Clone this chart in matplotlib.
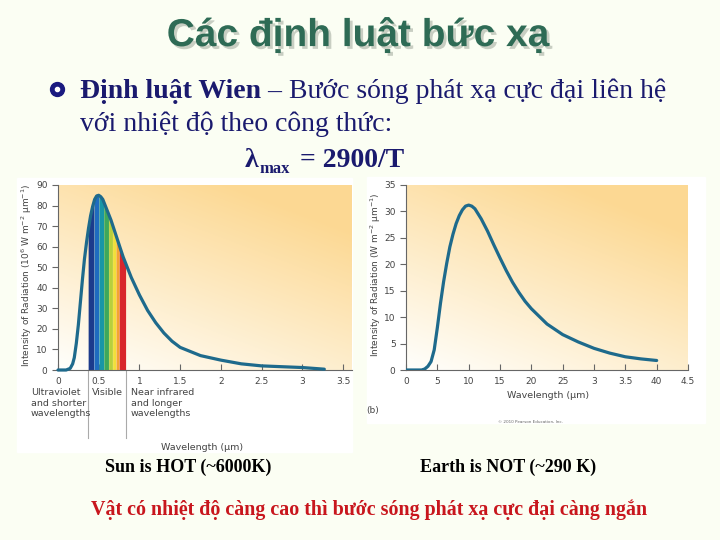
import matplotlib
matplotlib.use("Agg")
import matplotlib.pyplot as plt
import matplotlib.patheffects as pe
import numpy as np

# ---- data ----
sun_wl = [0, 0.1, 0.15, 0.18, 0.2, 0.225, 0.25, 0.275, 0.3, 0.325, 0.35,
          0.375, 0.4, 0.425, 0.45, 0.475, 0.5, 0.525, 0.55, 0.6,
          0.65, 0.7, 0.75, 0.8, 0.9, 1.0, 1.1, 1.2, 1.3, 1.4, 1.5, 1.75,
          2.0, 2.25, 2.5, 2.75, 3.0, 3.27]
sun_int = [0, 0, 0.8, 3, 6, 13, 22, 33, 44, 54, 62,
           69, 75, 79.5, 83, 84.7, 85, 84.3, 83, 78,
           73, 67, 61, 55, 45, 36.5, 29, 23, 18, 14, 11, 7,
           4.8, 3, 2, 1.6, 1.2, 0.4]

earth_wl = [0, 2.5, 3, 3.5, 4, 4.5, 5, 5.5, 6, 6.5, 7, 7.5, 8, 8.5, 9, 9.5,
            10, 10.5, 11, 12, 13, 14, 15, 16, 17, 18, 19, 20, 22.5, 25,
            27.5, 30, 32.5, 35, 37.5, 40]
earth_int = [0, 0, 0.2, 0.7, 1.6, 3.8, 8, 12.6, 16.7, 20.2, 23.3, 25.7,
             27.7, 29.2, 30.3, 31.0, 31.2, 31.0, 30.5, 28.6, 26.3, 23.7,
             21.2, 18.8, 16.6, 14.7, 13.0, 11.6, 8.7, 6.7, 5.3, 4.1, 3.2,
             2.5, 2.1, 1.8]

sun_xticks = [0, 0.5, 1, 1.5, 2, 2.5, 3, 3.5]
sun_xlabels = ["0", "0.5", "1", "1.5", "2", "2.5", "3", "3.5"]
sun_yticks = list(range(0, 91, 10))
earth_xticks = list(range(0, 46, 5))
earth_xlabels = ["0", "5", "10", "15", "20", "25", "3", "3.5", "40", "4.5"]
earth_yticks = list(range(0, 36, 5))

# visible band split (start, end, colour)
vis_edges = [0.37, 0.44, 0.5, 0.56, 0.62, 0.67, 0.71, 0.75, 0.83]
vis_colors = ["#1c3b8c", "#1f6cbf", "#1996a6", "#3fa85a", "#b8cf3c",
              "#f1df3a", "#f3a431", "#d8262b"]

W, H = 720, 540
fig = plt.figure(figsize=(7.2, 5.4), dpi=100)
fig.patch.set_facecolor("#fbfef3")


def fx(x):
    return x / W


def fy(y):
    return 1 - y / H


def px_axes(x0, y0, x1, y1):
    return fig.add_axes([fx(x0), fy(y1), (x1 - x0) / W, (y1 - y0) / H])


def gradient(ax):
    n = 200
    xs = np.linspace(0, 1, n)
    ys = np.linspace(0, 1, n)
    X, Y = np.meshgrid(xs, ys)
    t = np.clip(0.45 * X + 0.75 * Y, 0, 1)[..., None]
    white = np.array([1.0, 1.0, 0.99])
    orange = np.array([0.99, 0.85, 0.58])
    img = white * (1 - t) + orange * t
    ax.imshow(img, extent=[0, 1, 0, 1], origin="lower", aspect="auto",
              transform=ax.transAxes, zorder=0)


def style(ax):
    ax.patch.set_alpha(0)
    for s in ["top", "right"]:
        ax.spines[s].set_visible(False)
    for s in ["left", "bottom"]:
        ax.spines[s].set_color("#666666")
        ax.spines[s].set_linewidth(0.8)
    ax.tick_params(axis="x", direction="in", length=4, color="#666666",
                   labelsize=6.5, labelcolor="#444444", pad=5)
    ax.tick_params(axis="y", direction="out", length=4, color="#666666",
                   labelsize=6.5, labelcolor="#444444")


# white image panels (behind the axes)
fig.patches.append(plt.Rectangle((fx(17), fy(452)), 335 / W, 274 / H,
                                 transform=fig.transFigure, color="white", zorder=-5))
fig.patches.append(plt.Rectangle((fx(367), fy(423)), 338 / W, 246 / H,
                                 transform=fig.transFigure, color="white", zorder=-5))

# ---- left chart: the Sun ----
ax1 = px_axes(58, 185, 352, 370)
gradient(ax1)
ax1.plot(sun_wl, sun_int, color="#1e6a8c", lw=2.3, zorder=3, clip_on=False,
         solid_joinstyle="round", solid_capstyle="round")
xx = np.linspace(vis_edges[0], vis_edges[-1], 200)
yy = np.interp(xx, sun_wl, sun_int)
for i, c in enumerate(vis_colors):
    m = (xx >= vis_edges[i]) & (xx <= vis_edges[i + 1])
    ax1.fill_between(xx[m], 0, yy[m], color=c, lw=0, zorder=2)
ax1.set_xlim(0, 3.61)
ax1.set_ylim(0, 90)
ax1.set_xticks(sun_xticks)
ax1.set_xticklabels(sun_xlabels)
ax1.set_yticks(sun_yticks)
style(ax1)
for xv in [vis_edges[0], vis_edges[-1]]:
    ax1.plot([xv, xv], [0, -33], color="#aaaaaa", lw=0.8, clip_on=False)

fig.text(fx(27), fy(275), "Intensity of Radiation (10$^6$ W m$^{-2}$ μm$^{-1}$)",
         rotation=90, ha="center", va="center", fontsize=6.5, color="#444444")
lab = dict(fontsize=6.8, color="#444444", va="top", ha="left", linespacing=1.25)
fig.text(fx(31), fy(388), "Ultraviolet\nand shorter\nwavelengths", **lab)
fig.text(fx(92), fy(388), "Visible", **lab)
fig.text(fx(131), fy(388), "Near infrared\nand longer\nwavelengths", **lab)
fig.text(fx(202), fy(447), "Wavelength (μm)", ha="center", va="center",
         fontsize=6.8, color="#444444")

# ---- right chart: the Earth ----
ax2 = px_axes(406, 185, 688, 370)
gradient(ax2)
ax2.plot(earth_wl, earth_int, color="#1e6a8c", lw=2.3, zorder=3,
         solid_joinstyle="round", solid_capstyle="round")
ax2.set_xlim(0, 45)
ax2.set_ylim(0, 35)
ax2.set_xticks(earth_xticks)
ax2.set_xticklabels(earth_xlabels)
ax2.set_yticks(earth_yticks)
style(ax2)
fig.text(fx(376), fy(275), "Intensity of Radiation (W m$^{-2}$ μm$^{-1}$)",
         rotation=90, ha="center", va="center", fontsize=6.5, color="#444444")
fig.text(fx(548), fy(395), "Wavelength (μm)", ha="center", va="center",
         fontsize=6.8, color="#444444")
fig.text(fx(373), fy(410), "(b)", ha="center", va="center",
         fontsize=6.5, color="#444444")
fig.text(fx(530), fy(422), "© 2010 Pearson Education, Inc.", ha="center",
         va="center", fontsize=3, color="#666666")

# ---- slide texts ----
fig.text(fx(358), fy(36), "Các định luật bức xạ", ha="center", va="center",
         fontsize=28, family="Liberation Sans", weight="bold", color="#2e6b55",
         path_effects=[pe.withSimplePatchShadow(offset=(2, -2),
                                                shadow_rgbFace="#c8cec2",
                                                alpha=1)])

fig.lines.append(plt.Line2D([fx(57)], [fy(89)], marker="o", ms=10,
                            color="#1a1a80", transform=fig.transFigure))
fig.lines.append(plt.Line2D([fx(57)], [fy(89)], marker="o", ms=3,
                            color="white", transform=fig.transFigure))

navy = "#1a1a6e"
serif = "Liberation Serif"
renderer = fig.canvas.get_renderer()
t1 = fig.text(fx(80), fy(98), "Định luật Wien", ha="left", va="baseline",
              fontsize=20, family=serif, weight="bold", color=navy)
bb = t1.get_window_extent(renderer)
fig.text(bb.x1 / W, fy(98), " – Bước sóng phát xạ cực đại liên hệ", ha="left",
         va="baseline", fontsize=20, family=serif, color=navy)
fig.text(fx(80), fy(131), "với nhiệt độ theo công thức:", ha="left",
         va="baseline", fontsize=20, family=serif, color=navy)
fig.text(fx(245), fy(167), "λ", ha="left", va="baseline", fontsize=20,
         family=serif, weight="bold", color=navy)
fig.text(fx(259), fy(173), "max", ha="left", va="baseline", fontsize=12,
         family=serif, weight="bold", color=navy)
fig.text(fx(300), fy(167), "= 2900/T", ha="left", va="baseline", fontsize=20,
         family=serif, weight="bold", color=navy)

fig.text(fx(105), fy(472), "Sun is HOT (~6000K)", ha="left", va="baseline",
         fontsize=13, family=serif, weight="bold", color="black")
fig.text(fx(420), fy(472), "Earth is NOT (~290 K)", ha="left", va="baseline",
         fontsize=13, family=serif, weight="bold", color="black")
fig.text(fx(369.5), fy(515), "Vật có nhiệt độ càng cao thì bước sóng phát xạ cực đại càng ngắn",
         ha="center", va="baseline", fontsize=14.4, family=serif, weight="bold",
         color="#c8161d")

fig.savefig("out.png", dpi=100, facecolor=fig.get_facecolor())
